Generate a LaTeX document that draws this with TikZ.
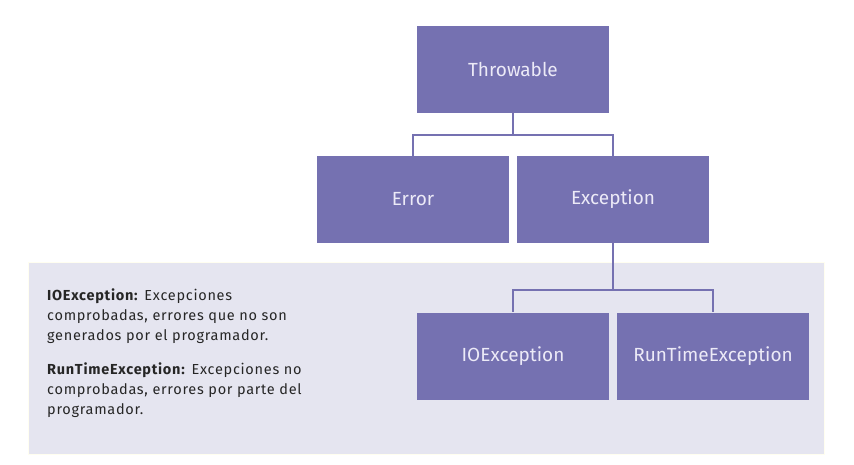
\documentclass[tikz,border=0pt]{standalone}
\usepackage{fontspec}
\setmainfont{Fira Sans}
\newfontfamily\notefont{Fira Sans}[LetterSpace=5]
\usetikzlibrary{positioning}
\definecolor{classfill}{HTML}{7571B1}
\definecolor{classtext}{HTML}{ECEAF7}
\definecolor{panelfill}{HTML}{E5E5F0}
\definecolor{noteink}{HTML}{262626}
\tikzset{
  cls/.style={fill=classfill, text=classtext, minimum width=192pt, minimum height=87pt,
    inner sep=0pt, font=\fontsize{19}{21}\selectfont},
  link/.style={draw=classfill, line width=1.6pt},
  note/.style={anchor=base west, align=left, text=noteink, inner sep=0pt,
    font=\notefont\fontsize{14.5}{20}\selectfont}
}
\begin{document}
\begin{tikzpicture}[x=1pt, y=-1pt]
      \useasboundingbox (0,0) rectangle (854,465);
      \fill[panelfill, draw=yellow!6!white, line width=0.8pt] (28,262) rectangle (824,454);
      \node[cls] (throwable) at (513,69.5) {Throwable};
      \node[cls] (error) at (413,199.5) {Error};
      \node[cls] (exception) at (613,199.5) {Exception};
      \node[cls] (ioexc) at (513,356) {IOException};
      \node[cls] (rtexc) at (713,356) {RunTimeException};
      % base of a multi-line note is its last line
      \node[note] (ionote) at (47,340.5) {\textbf{IOException:} Excepciones\\
        comprobadas, errores que no son\\
        generados por el programador.};
      \node[note] (rtnote) at (47,414.5)
        {\textbf{RunTimeException:} Excepciones no\\
        comprobadas, errores por parte del\\
        programador.};
      \begin{scope}[link]
        \draw (throwable.south) -- ++(0,22) -| (error.north);
        \draw (throwable.south) -- ++(0,22) -| (exception.north);
        \draw (exception.south) -- ++(0,46.5) -| (ioexc.north);
        \draw (exception.south) -- ++(0,46.5) -| (rtexc.north);
      \end{scope}
    \end{tikzpicture}
\end{document}
